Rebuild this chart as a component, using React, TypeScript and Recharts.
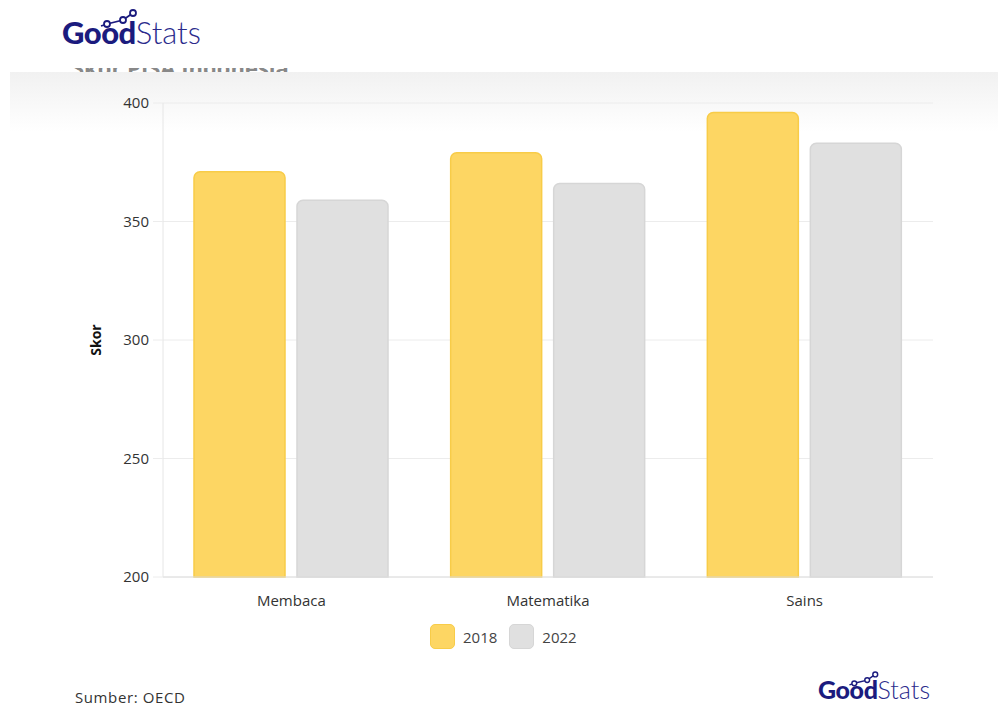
import { Bar, BarChart, CartesianGrid, XAxis, YAxis } from 'recharts'

const KATEGORI = ['Membaca', 'Matematika', 'Sains']
const SKOR_2018 = [371, 379, 396]
const SKOR_2022 = [359, 366, 383]
const TICKS_Y = [200, 250, 300, 350, 400]

const KUNING = '#fdd663'
const KUNING_GARIS = '#f8cc48'
const ABU = '#e0e0e0'
const ABU_GARIS = '#d6d6d6'
const NAVY = '#1b1b7e'
const FONT = '"Open Sans", "Noto Sans", sans-serif'

const data = KATEGORI.map((k, i) => ({ kategori: k, '2018': SKOR_2018[i], '2022': SKOR_2022[i] }))

// logo GoodStats: teks + ikon garis bertitik di atas "od"
function Logo({ x, y, size }: { x: number; y: number; size: number }) {
  const s = size / 31
  const titik = [
    [45, 19],
    [61, 15],
    [71, 8],
  ]
  return (
    <div style={{ position: 'absolute', left: x, top: y, lineHeight: 1.1, whiteSpace: 'nowrap' }}>
      <svg
        width={80 * s}
        height={30 * s}
        style={{ position: 'absolute', left: 0, top: -10 * s }}
        viewBox="0 0 80 30"
      >
        <polyline points="39,21 45,19 61,15 71,8" fill="none" stroke={NAVY} strokeWidth={1.8} />
        {titik.map(([cx, cy], i) => (
          <circle key={i} cx={cx} cy={cy} r={3} fill="#fff" stroke={NAVY} strokeWidth={1.8} />
        ))}
      </svg>
      <span
        style={{
          fontFamily: 'Lato, "Open Sans", sans-serif',
          fontWeight: 900,
          fontSize: size,
          color: NAVY,
          letterSpacing: -0.5 * s,
        }}
      >
        Good
      </span>
      <span
        style={{
          fontFamily: 'Lato, "Open Sans", sans-serif',
          fontWeight: 300,
          fontSize: size,
          color: '#2b2b8c',
        }}
      >
        Stats
      </span>
    </div>
  )
}

export default function App() {
  return (
    <div
      style={{
        position: 'absolute',
        left: 0,
        top: 0,
        width: 998,
        height: 706,
        background: '#fff',
        overflow: 'hidden',
        fontFamily: FONT,
      }}
    >
      {/* judul, sebagian besar tertutup header putih dan pita abu-abu */}
      <div
        style={{
          position: 'absolute',
          left: 72,
          top: 52,
          fontSize: 22,
          fontWeight: 700,
          color: '#888',
          whiteSpace: 'nowrap',
        }}
      >
        Skor PISA Indonesia
      </div>
      <div style={{ position: 'absolute', left: 0, top: 0, width: 998, height: 68, background: '#fff' }} />
      <div
        style={{
          position: 'absolute',
          left: 10,
          top: 72,
          width: 988,
          height: 60,
          background: 'linear-gradient(#f1f1f1, #ffffff)',
        }}
      />

      <Logo x={62} y={15} size={31} />

      <div style={{ position: 'absolute', left: 0, top: 0 }}>
        <BarChart
          width={998}
          height={706}
          data={data}
          margin={{ top: 103, right: 65, bottom: 99, left: 96 }}
          barSize={91}
          barGap={12}
        >
          <CartesianGrid stroke="#ececec" vertical={false} />
          <XAxis
            dataKey="kategori"
            axisLine={{ stroke: '#dedede' }}
            tickLine={false}
            tickMargin={12}
            tick={{ fontSize: 15, fill: '#333', fontFamily: FONT }}
          />
          <YAxis
            width={67}
            domain={[200, 400]}
            ticks={TICKS_Y}
            axisLine={{ stroke: '#e6e6e6' }}
            tickLine={{ stroke: '#ececec' }}
            tickSize={10}
            tickMargin={4}
            tick={{ fontSize: 15, fill: '#333', fontFamily: FONT }}
            label={{
              value: 'Skor',
              angle: -90,
              position: 'insideLeft',
              offset: 0,
              style: { textAnchor: 'middle', fontSize: 14, fontWeight: 700, fill: '#111', fontFamily: FONT },
            }}
          />
          <Bar
            dataKey="2018"
            fill={KUNING}
            stroke={KUNING_GARIS}
            strokeWidth={1.5}
            radius={[6, 6, 0, 0]}
            isAnimationActive={false}
          />
          <Bar
            dataKey="2022"
            fill={ABU}
            stroke={ABU_GARIS}
            strokeWidth={1.5}
            radius={[6, 6, 0, 0]}
            isAnimationActive={false}
          />
        </BarChart>
      </div>

      {/* legenda */}
      <div
        style={{
          position: 'absolute',
          left: 430,
          top: 624,
          display: 'flex',
          alignItems: 'center',
          fontSize: 15,
          color: '#444',
        }}
      >
        {[
          ['2018', KUNING, KUNING_GARIS],
          ['2022', ABU, ABU_GARIS],
        ].map(([nama, isi, garis]) => (
          <div key={nama} style={{ display: 'flex', alignItems: 'center', marginRight: 12 }}>
            <div
              style={{
                width: 25,
                height: 25,
                borderRadius: 5,
                background: isi,
                border: `1.5px solid ${garis}`,
                boxSizing: 'border-box',
                marginRight: 8,
              }}
            />
            <span>{nama}</span>
          </div>
        ))}
      </div>

      <div
        style={{
          position: 'absolute',
          left: 75,
          top: 688,
          fontSize: 15,
          letterSpacing: 0.6,
          lineHeight: 1.2,
          color: '#333',
        }}
      >
        Sumber: OECD
      </div>
      <Logo x={818} y={676} size={25} />
    </div>
  )
}
